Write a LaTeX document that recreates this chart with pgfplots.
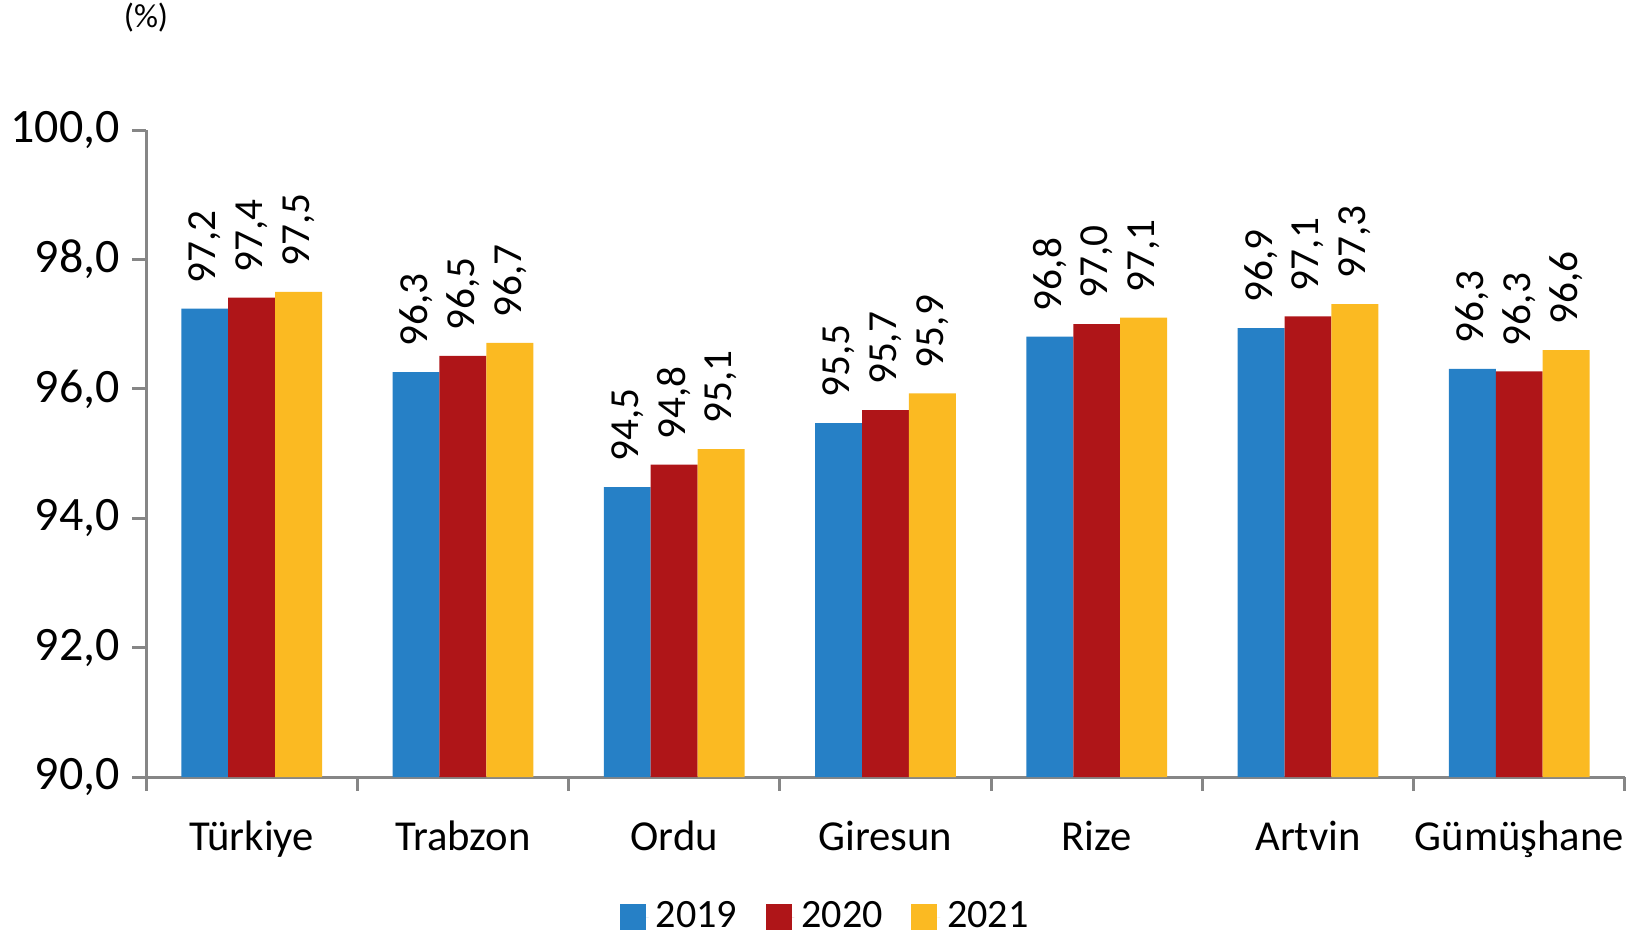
\documentclass[border=0pt]{standalone}
\usepackage{fontspec}
\setmainfont{Carlito}
\usepackage{pgfplots}
\pgfplotsset{compat=1.18}

\definecolor{c2019}{RGB}{38,128,198}
\definecolor{c2020}{RGB}{175,21,24}
\definecolor{c2021}{RGB}{251,186,34}
\definecolor{axgray}{RGB}{134,134,134}

\begin{document}
\begin{tikzpicture}
\begin{axis}[
    scale only axis,
    width=419.3pt, height=183.4pt,
    ybar=0pt, bar width=13.3pt,
    xmin=-0.5, xmax=6.5,
    ymin=90, ymax=100,
    ytick={90,92,...,100},
    xtick={-0.5,0.5,...,6.5},
    xticklabels={T\"urkiye,Trabzon,Ordu,Giresun,Rize,Artvin,G\"um\"u\c{s}hane},
    x tick label as interval,
    axis x line*=bottom, axis y line*=left,
    axis line style={axgray, line width=0.85pt},
    tick style={axgray, line width=0.85pt},
    major tick length=3.9pt,
    tick align=outside,
    yticklabel style={font=\fontsize{13.6}{16}\selectfont},
    xticklabel style={font=\fontsize{12.1}{14}\selectfont, yshift=-5pt},
    /pgf/number format/use comma,
    /pgf/number format/fixed,
    /pgf/number format/fixed zerofill,
    /pgf/number format/precision=1,
    /pgf/number format/1000 sep={},
    /pgf/number format/assume math mode=true,
    nodes near coords,
    every node near coord/.append style={rotate=90, anchor=west,
        font=\fontsize{11.7}{14}\selectfont, text=black,
        inner xsep=7pt, inner ysep=0pt},
    clip=false,
    legend columns=-1,
    legend style={draw=none, at={(0.461,-0.2165)}, anchor=center,
        font=\fontsize{11.4}{14}\selectfont,
        /tikz/every even column/.append style={column sep=6pt}},
    legend image code/.code={\fill[#1] (0pt,-3.7pt) rectangle (7.4pt,3.7pt);
        \path (7.4pt,0pt) -- (8.2pt,0pt);},
]
\addplot[fill=c2019, draw=none] coordinates {(0,97.24) (1,96.26) (2,94.48) (3,95.47) (4,96.81) (5,96.94) (6,96.31)};
\addplot[fill=c2020, draw=none] coordinates {(0,97.41) (1,96.51) (2,94.83) (3,95.67) (4,97.00) (5,97.12) (6,96.27)};
\addplot[fill=c2021, draw=none] coordinates {(0,97.50) (1,96.71) (2,95.07) (3,95.93) (4,97.10) (5,97.31) (6,96.60)};
\legend{2019,2020,2021}
\coordinate (bl) at (rel axis cs:0,0);
\coordinate (tr) at (rel axis cs:1,1);
\node[font=\fontsize{9.5}{11}\selectfont] at ([yshift=32pt]rel axis cs:0,1) {(\%)};
\end{axis}
\pgfresetboundingbox
\path ([xshift=-41.4pt,yshift=-45.4pt]bl) rectangle ([xshift=2.3pt,yshift=36.9pt]tr);
\end{tikzpicture}
\end{document}
